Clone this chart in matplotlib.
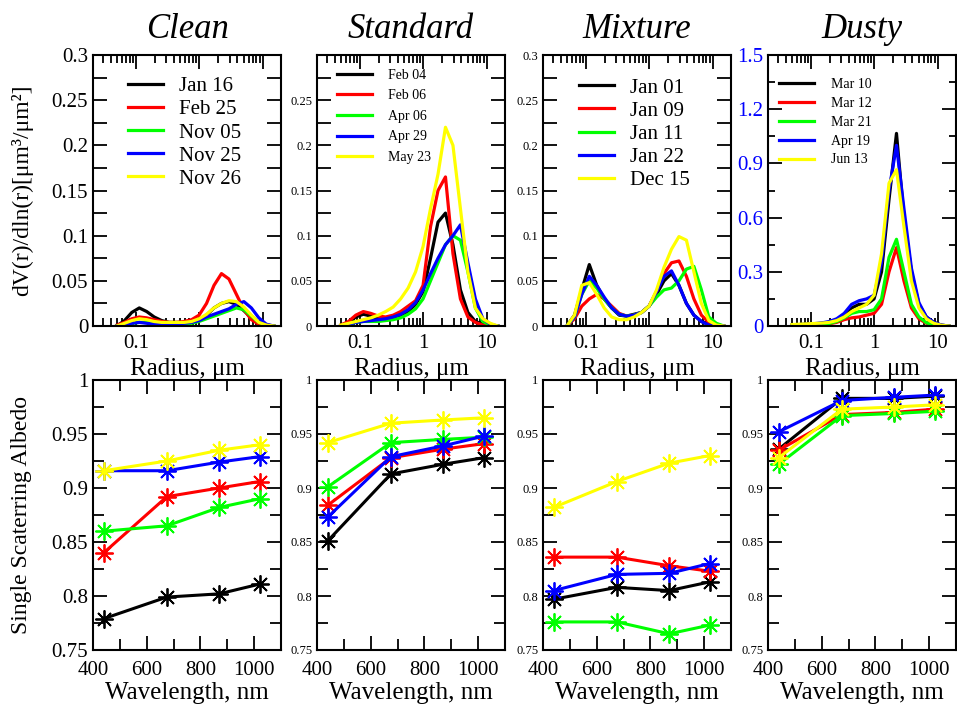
import numpy as np
import matplotlib
matplotlib.use("Agg")
import matplotlib.pyplot as plt
from matplotlib.ticker import FixedLocator, MultipleLocator, NullFormatter, FuncFormatter, LogLocator

plt.rcParams['font.family'] = ['Liberation Serif', 'DejaVu Serif']

# radius bins (um)
radius = [0.050, 0.066, 0.086, 0.113, 0.148, 0.194, 0.255, 0.335, 0.439, 0.576, 0.756,
          0.992, 1.302, 1.708, 2.241, 2.940, 3.857, 5.061, 6.641, 8.713, 11.432, 15.000]
wavelength = [440, 675, 870, 1020]

colores = ['black', 'red', '#00ff00', 'blue', 'yellow']
titulos = ['Clean', 'Standard', 'Mixture', 'Dusty']

fechas_clean = ['Jan 16', 'Feb 25', 'Nov 05', 'Nov 25', 'Nov 26']
fechas_standard = ['Feb 04', 'Feb 06', 'Apr 06', 'Apr 29', 'May 23']
fechas_mixture = ['Jan 01', 'Jan 09', 'Jan 11', 'Jan 22', 'Dec 15']
fechas_dusty = ['Mar 10', 'Mar 12', 'Mar 21', 'Apr 19', 'Jun 13']

# volume size distributions
vsd_clean = [
    [0.000, 0.006, 0.015, 0.020, 0.016, 0.010, 0.006, 0.004, 0.004, 0.004, 0.005, 0.007, 0.012, 0.020, 0.025, 0.027, 0.024, 0.017, 0.009, 0.003, 0.001, 0.000],
    [0.001, 0.004, 0.008, 0.010, 0.009, 0.007, 0.005, 0.004, 0.004, 0.005, 0.007, 0.012, 0.025, 0.045, 0.058, 0.052, 0.035, 0.018, 0.007, 0.002, 0.001, 0.000],
    [0.000, 0.001, 0.003, 0.004, 0.004, 0.003, 0.002, 0.002, 0.002, 0.002, 0.003, 0.005, 0.008, 0.011, 0.014, 0.017, 0.020, 0.018, 0.011, 0.004, 0.001, 0.000],
    [0.000, 0.001, 0.003, 0.004, 0.003, 0.002, 0.002, 0.002, 0.002, 0.003, 0.004, 0.006, 0.010, 0.013, 0.016, 0.019, 0.024, 0.027, 0.020, 0.009, 0.002, 0.000],
    [0.000, 0.003, 0.006, 0.008, 0.007, 0.005, 0.004, 0.004, 0.004, 0.004, 0.005, 0.008, 0.013, 0.020, 0.025, 0.028, 0.027, 0.021, 0.012, 0.004, 0.001, 0.000],
]
vsd_standard = [
    [0.001, 0.004, 0.010, 0.013, 0.011, 0.008, 0.007, 0.008, 0.011, 0.016, 0.024, 0.038, 0.075, 0.115, 0.125, 0.090, 0.040, 0.015, 0.005, 0.002, 0.001, 0.000],
    [0.001, 0.005, 0.012, 0.016, 0.014, 0.011, 0.010, 0.012, 0.016, 0.022, 0.028, 0.045, 0.110, 0.150, 0.165, 0.080, 0.030, 0.010, 0.004, 0.001, 0.000, 0.000],
    [0.000, 0.002, 0.004, 0.005, 0.005, 0.005, 0.006, 0.007, 0.009, 0.013, 0.019, 0.030, 0.050, 0.070, 0.090, 0.100, 0.095, 0.060, 0.020, 0.005, 0.001, 0.000],
    [0.000, 0.002, 0.004, 0.005, 0.006, 0.007, 0.008, 0.010, 0.013, 0.018, 0.026, 0.040, 0.058, 0.075, 0.090, 0.100, 0.112, 0.070, 0.030, 0.008, 0.002, 0.000],
    [0.001, 0.003, 0.005, 0.007, 0.009, 0.012, 0.016, 0.021, 0.030, 0.042, 0.060, 0.088, 0.130, 0.168, 0.220, 0.200, 0.130, 0.060, 0.020, 0.008, 0.003, 0.000],
]
vsd_mixture = [
    [0.000, 0.012, 0.040, 0.068, 0.045, 0.030, 0.020, 0.012, 0.011, 0.013, 0.015, 0.022, 0.035, 0.050, 0.058, 0.045, 0.025, 0.012, 0.005, 0.002, 0.000, 0.000],
    [0.000, 0.008, 0.022, 0.030, 0.035, 0.030, 0.022, 0.014, 0.011, 0.012, 0.015, 0.022, 0.038, 0.058, 0.070, 0.072, 0.055, 0.030, 0.012, 0.004, 0.001, 0.000],
    [0.000, 0.010, 0.035, 0.050, 0.042, 0.030, 0.020, 0.013, 0.011, 0.012, 0.015, 0.022, 0.032, 0.040, 0.042, 0.050, 0.063, 0.066, 0.040, 0.010, 0.003, 0.000],
    [0.000, 0.010, 0.035, 0.055, 0.045, 0.032, 0.020, 0.013, 0.011, 0.012, 0.015, 0.022, 0.038, 0.055, 0.061, 0.045, 0.025, 0.012, 0.005, 0.001, 0.000, 0.000],
    [0.000, 0.012, 0.045, 0.048, 0.035, 0.020, 0.010, 0.007, 0.007, 0.010, 0.015, 0.022, 0.040, 0.065, 0.085, 0.099, 0.095, 0.060, 0.025, 0.006, 0.001, 0.000],
]
vsd_dusty = [
    [0.005, 0.008, 0.010, 0.012, 0.015, 0.020, 0.030, 0.060, 0.100, 0.120, 0.120, 0.150, 0.300, 0.700, 1.066, 0.600, 0.300, 0.120, 0.050, 0.020, 0.005, 0.000],
    [0.003, 0.005, 0.006, 0.008, 0.010, 0.012, 0.020, 0.035, 0.045, 0.050, 0.060, 0.070, 0.120, 0.300, 0.434, 0.250, 0.100, 0.040, 0.015, 0.005, 0.002, 0.000],
    [0.003, 0.005, 0.007, 0.009, 0.011, 0.014, 0.025, 0.045, 0.070, 0.080, 0.080, 0.090, 0.150, 0.380, 0.480, 0.300, 0.120, 0.050, 0.018, 0.006, 0.002, 0.000],
    [0.005, 0.008, 0.010, 0.013, 0.017, 0.025, 0.040, 0.070, 0.120, 0.140, 0.150, 0.170, 0.350, 0.750, 1.000, 0.650, 0.320, 0.130, 0.050, 0.020, 0.005, 0.000],
    [0.008, 0.010, 0.012, 0.014, 0.016, 0.020, 0.030, 0.050, 0.080, 0.100, 0.120, 0.170, 0.400, 0.790, 0.865, 0.550, 0.250, 0.100, 0.040, 0.015, 0.004, 0.000],
]

# single scattering albedo
ssa_clean = [
    [0.779, 0.799, 0.802, 0.811],
    [0.840, 0.892, 0.900, 0.906],
    [0.860, 0.865, 0.882, 0.890],
    [0.916, 0.916, 0.924, 0.929],
    [0.916, 0.925, 0.935, 0.940],
]
ssa_standard = [
    [0.851, 0.913, 0.922, 0.928],
    [0.884, 0.928, 0.936, 0.941],
    [0.901, 0.942, 0.945, 0.947],
    [0.873, 0.929, 0.939, 0.948],
    [0.942, 0.960, 0.963, 0.965],
]
ssa_mixture = [
    [0.797, 0.808, 0.805, 0.813],
    [0.836, 0.836, 0.828, 0.823],
    [0.776, 0.776, 0.765, 0.773],
    [0.805, 0.820, 0.821, 0.830],
    [0.882, 0.906, 0.923, 0.930],
]
ssa_dusty = [
    [0.936, 0.983, 0.983, 0.985],
    [0.935, 0.968, 0.970, 0.973],
    [0.922, 0.967, 0.969, 0.971],
    [0.952, 0.981, 0.984, 0.986],
    [0.928, 0.973, 0.975, 0.977],
]

vsd_todos = [vsd_clean, vsd_standard, vsd_mixture, vsd_dusty]
ssa_todos = [ssa_clean, ssa_standard, ssa_mixture, ssa_dusty]
fechas_todas = [fechas_clean, fechas_standard, fechas_mixture, fechas_dusty]

fig = plt.figure(figsize=(9.57, 7.04), dpi=100)
izq = [93, 317, 543, 768]
ancho = 188 / 957.0

leg_font = [15, 10, 15, 10]
leg_pos = [(0.185, 0.92), (0.105, 0.95), (0.19, 0.915), (0.06, 0.915)]
leg_sp = [0.17, 0.55, 0.17, 0.42]
leg_tp = [0.8, 1.15, 0.8, 1.2]

for i in range(4):
    # --- arriba: distribucion de tamanos ---
    ax = fig.add_axes([izq[i] / 957.0, 1 - 326 / 704.0, ancho, 271 / 704.0])
    for j in range(5):
        ax.plot(radius, vsd_todos[i][j], color=colores[j], lw=2.3, label=fechas_todas[i][j])
    ax.set_xscale('log')
    ax.set_xlim(0.021, 19.5)
    ax.xaxis.set_major_locator(FixedLocator([0.1, 1, 10]))
    ax.xaxis.set_major_formatter(FuncFormatter(lambda v, p: '%g' % v))
    ax.xaxis.set_minor_locator(LogLocator(base=10, subs=np.arange(2, 10)))
    ax.xaxis.set_minor_formatter(NullFormatter())
    if i < 3:
        ax.set_ylim(0, 0.3)
        ax.yaxis.set_major_locator(MultipleLocator(0.05))
        ax.yaxis.set_minor_locator(MultipleLocator(0.025))
        ax.yaxis.set_major_formatter(FuncFormatter(lambda v, p: '%g' % round(v, 3)))
        ylen_minor = 10
    else:
        ax.set_ylim(0, 1.5)
        ax.yaxis.set_major_locator(MultipleLocator(0.3))
        ax.yaxis.set_minor_locator(MultipleLocator(0.15))
        ax.yaxis.set_major_formatter(FuncFormatter(lambda v, p: '%g' % round(v, 2)))
        ylen_minor = 5
    ax.tick_params(which='both', direction='in', top=True, right=True, width=1.3)
    ax.tick_params(axis='x', which='major', length=10, labelsize=15, pad=6)
    ax.tick_params(axis='x', which='minor', length=5.5)
    ax.tick_params(axis='y', which='major', length=10)
    ax.tick_params(axis='y', which='minor', length=ylen_minor)
    if i == 0:
        ax.tick_params(axis='y', labelsize=15)
    elif i == 3:
        ax.tick_params(axis='y', labelsize=15, labelcolor='blue')
    else:
        ax.tick_params(axis='y', labelsize=9)
    if i == 1:
        ax.set_yticks([0, 0.05, 0.1, 0.15, 0.2, 0.25])
    for s in ax.spines.values():
        s.set_linewidth(1.5)
    ax.set_xlabel('Radius, \u03bcm', fontsize=18, labelpad=3)
    ax.set_title(titulos[i], fontsize=25, style='italic', pad=12)
    ax.legend(loc='upper left', bbox_to_anchor=leg_pos[i], frameon=False,
              fontsize=leg_font[i], handlelength=35 / (leg_font[i] * 1.389),
              handletextpad=leg_tp[i], labelspacing=leg_sp[i], borderpad=0, borderaxespad=0)

    # --- abajo: albedo ---
    ax2 = fig.add_axes([izq[i] / 957.0, 1 - 650 / 704.0, ancho, 270 / 704.0])
    for j in range(5):
        ax2.plot(wavelength, ssa_todos[i][j], color=colores[j], lw=2.2,
                 marker=(8, 2, 0), markersize=13, markeredgewidth=1.3)
    ax2.set_xlim(400, 1100)
    ax2.set_ylim(0.75, 1)
    ax2.xaxis.set_major_locator(MultipleLocator(200))
    ax2.xaxis.set_minor_locator(MultipleLocator(100))
    ax2.yaxis.set_major_locator(MultipleLocator(0.05))
    ax2.yaxis.set_minor_locator(MultipleLocator(0.025))
    ax2.yaxis.set_major_formatter(FuncFormatter(lambda v, p: '%g' % round(v, 3)))
    ax2.tick_params(which='both', direction='in', top=True, right=True, width=1.3)
    ax2.tick_params(which='major', length=10)
    ax2.tick_params(which='minor', length=8)
    ax2.tick_params(axis='x', labelsize=15, pad=8)
    if i == 0:
        ax2.tick_params(axis='y', labelsize=15)
    else:
        ax2.tick_params(axis='y', labelsize=9)
    for s in ax2.spines.values():
        s.set_linewidth(1.5)
    ax2.set_xlabel('Wavelength, nm', fontsize=18, labelpad=1)

fig.text(22 / 957.0, 1 - 190 / 704.0, 'dV(r)/dln(r)[\u03bcm\u00b3/\u03bcm\u00b2]',
         rotation=90, ha='center', va='center', fontsize=17)
fig.text(22 / 957.0, 1 - 515 / 704.0, 'Single Scaterring Albedo',
         rotation=90, ha='center', va='center', fontsize=17)

plt.savefig('out.png', dpi=100)
